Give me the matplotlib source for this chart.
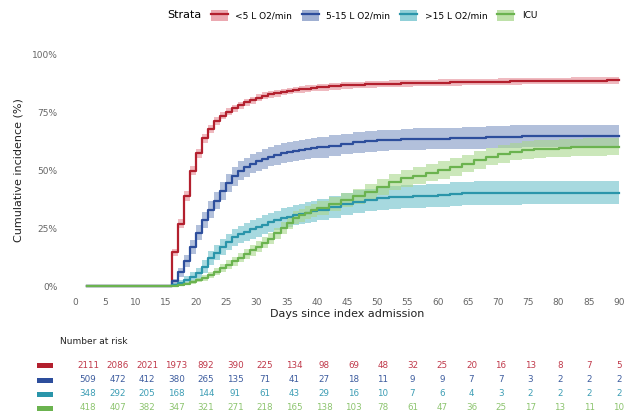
import matplotlib
matplotlib.use("Agg")
import matplotlib.pyplot as plt
import numpy as np
from matplotlib.patches import Patch, Rectangle
from matplotlib.lines import Line2D
from matplotlib.legend_handler import HandlerTuple
from matplotlib.offsetbox import HPacker

# ---------------- data ----------------
days = [2, 16, 17, 18, 19, 20, 21, 22, 23, 24, 25, 26, 27, 28, 29, 30, 31, 32, 33, 34, 35,
        36, 37, 38, 39, 40, 42, 44, 46, 48, 50, 52, 54, 56, 58, 60, 62, 64, 66, 68, 70,
        72, 74, 76, 78, 80, 82, 84, 86, 88, 90]

strata = ["<5 L O2/min", "5-15 L O2/min", ">15 L O2/min", "ICU"]

inc_low = [0, 14.7, 27, 39, 50, 57.5, 64, 68, 71.5, 73.8, 75.5, 77, 78.3, 79.5, 80.5, 81.5,
           82.3, 83, 83.5, 84, 84.4, 84.8, 85.1, 85.4, 85.7, 86, 86.4, 86.8, 87.1, 87.3,
           87.5, 87.6, 87.7, 87.8, 87.9, 88.0, 88.1, 88.2, 88.3, 88.4, 88.5, 88.6, 88.7,
           88.7, 88.8, 88.8, 88.9, 88.9, 88.9, 89.0, 89.0]
inc_mid = [0, 2, 6, 11, 17, 23, 28.5, 33, 37, 41, 44.5, 47.5, 50, 51.5, 53, 54, 55, 56,
           56.8, 57.5, 58, 58.5, 58.9, 59.3, 59.7, 60, 60.8, 61.5, 62.2, 62.6, 63, 63.2,
           63.5, 63.6, 63.7, 63.8, 63.9, 64, 64.2, 64.4, 64.6, 64.7, 64.8, 64.9, 65, 65,
           65, 65, 65, 65, 65]
inc_high = [0, 0.5, 1.5, 2.6, 4, 5.5, 8.4, 12, 14.5, 17, 19, 21, 22.3, 23.5, 24.5, 25.5,
            26.5, 27.5, 28.4, 29.3, 30, 30.7, 31.3, 31.8, 32.4, 33, 34.2, 35.4, 36.5, 37.3,
            38, 38.4, 38.7, 38.9, 39.1, 39.3, 39.8, 40.1, 40.2, 40.3, 40.3, 40.3, 40.4,
            40.4, 40.4, 40.4, 40.4, 40.4, 40.4, 40.4, 40.4]
inc_icu = [0, 0, 0.3, 1, 1.8, 2.6, 3.5, 4.7, 6.2, 7.8, 9.3, 10.7, 12.2, 13.8, 15.4, 17,
           18.8, 20.5, 22.8, 25, 27.3, 29.5, 30.7, 31.8, 32.7, 33.6, 35.4, 37.2, 38.8,
           40.8, 43, 45, 46.6, 47.8, 49, 50.2, 51.5, 53, 54.5, 56, 57.2, 58.2, 58.8, 59.2,
           59.5, 59.8, 60, 60.1, 60.2, 60.3, 60.3]

# half-widths of confidence bands (percentage points)
ci_low = [0, 1.5, 1.8, 2, 2, 2, 1.9, 1.8, 1.7, 1.6, 1.6, 1.5, 1.5, 1.5, 1.5, 1.5, 1.5,
          1.5, 1.5, 1.4, 1.4, 1.4, 1.4, 1.4, 1.4, 1.4, 1.4, 1.4, 1.4, 1.4, 1.4, 1.4, 1.4,
          1.4, 1.4, 1.4, 1.4, 1.4, 1.4, 1.4, 1.4, 1.4, 1.4, 1.4, 1.4, 1.4, 1.4, 1.4, 1.4,
          1.4, 1.4]
ci_mid = [0, 1.2, 2, 2.6, 3, 3.3, 3.5, 3.7, 3.8, 3.9, 4, 4, 4.1, 4.1, 4.1, 4.2, 4.2, 4.2,
          4.3, 4.3, 4.3, 4.3, 4.3, 4.3, 4.4, 4.4, 4.4, 4.4, 4.5, 4.5, 4.5, 4.5, 4.6, 4.6,
          4.6, 4.6, 4.7, 4.7, 4.7, 4.7, 4.8, 4.8, 4.8, 4.8, 4.8, 4.8, 4.8, 4.8, 4.8, 4.8,
          4.8]
ci_high = [0, 0.6, 1.2, 1.6, 2, 2.3, 2.7, 3, 3.2, 3.4, 3.6, 3.7, 3.8, 3.9, 4, 4.1, 4.1,
           4.2, 4.2, 4.3, 4.3, 4.4, 4.4, 4.5, 4.5, 4.6, 4.7, 4.8, 4.9, 4.9, 5, 5, 5, 5, 5,
           5, 5.1, 5.1, 5.1, 5.1, 5.1, 5.1, 5.1, 5.1, 5.1, 5.1, 5.1, 5.1, 5.1, 5.1, 5.1]
ci_icu = [0, 0, 0.4, 0.7, 0.9, 1, 1.2, 1.4, 1.5, 1.7, 1.8, 1.9, 2, 2.1, 2.2, 2.3, 2.4,
          2.5, 2.5, 2.6, 2.7, 2.8, 2.8, 2.9, 3, 3, 3.1, 3.2, 3.3, 3.4, 3.5, 3.5, 3.6, 3.6,
          3.6, 3.7, 3.7, 3.7, 3.8, 3.8, 3.8, 3.8, 3.8, 3.8, 3.8, 3.8, 3.8, 3.8, 3.8, 3.8,
          3.8]

risk_days = [0, 5, 10, 15, 20, 25, 30, 35, 40, 45, 50, 55, 60, 65, 70, 75, 80, 85, 90]
risk_low = [2111, 2086, 2021, 1973, 892, 390, 225, 134, 98, 69, 48, 32, 25, 20, 16, 13, 8, 7, 5]
risk_mid = [509, 472, 412, 380, 265, 135, 71, 41, 27, 18, 11, 9, 9, 7, 7, 3, 2, 2, 2]
risk_high = [348, 292, 205, 168, 144, 91, 61, 43, 29, 16, 10, 7, 6, 4, 3, 2, 2, 2, 2]
risk_icu = [418, 407, 382, 347, 321, 271, 218, 165, 138, 103, 78, 61, 47, 36, 25, 17, 13, 11, 10]

x_ticks = [0, 5, 10, 15, 20, 25, 30, 35, 40, 45, 50, 55, 60, 65, 70, 75, 80, 85, 90]
y_ticks = [0, 25, 50, 75, 100]
y_tick_labels = ["0%", "25%", "50%", "75%", "100%"]

# ---------------- style ----------------
line_colors = ["#B3202E", "#2D4E9C", "#2A95AA", "#6BB34F"]
band_colors = ["#E58C97", "#8096C4", "#6DC1CB", "#A9D78C"]
text_colors = ["#C0394A", "#3D5C9E", "#3C9DB4", "#8CC46E"]

series = [inc_low, inc_mid, inc_high, inc_icu]
cis = [ci_low, ci_mid, ci_high, ci_icu]
risks = [risk_low, risk_mid, risk_high, risk_icu]

W, H = 633, 418
fig = plt.figure(figsize=(W / 100, H / 100), dpi=100)

xpx = (619 - 75) / 90.0
ypx = (286 - 55) / 100.0
xl, xr = -2, 92
yb, yt = -3, 103
left = (75 + xl * xpx) / W
width = (xr - xl) * xpx / W
bottom = 1 - (286 - yb * ypx) / H
height = (yt - yb) * ypx / H
ax = fig.add_axes([left, bottom, width, height])

d = np.array(days, dtype=float)
for vals, ci, bc in zip(series, cis, band_colors):
    v = np.array(vals)
    c = np.array(ci)
    ax.fill_between(d, v - c, v + c, step="post", color=bc, alpha=0.6, linewidth=0)
for vals, lc in zip(series, line_colors):
    ax.step(d, vals, where="post", color=lc, linewidth=1.6)

ax.set_xlim(xl, xr)
ax.set_ylim(yb, yt)
ax.set_xticks(x_ticks)
ax.set_yticks(y_ticks)
ax.set_yticklabels(y_tick_labels)
for s in ax.spines.values():
    s.set_visible(False)
ax.tick_params(length=0, labelsize=6.5, labelcolor="#666666", pad=4)
ax.set_xlabel("Days since index admission", fontsize=8, color="#222222", labelpad=1)
ax.set_ylabel("Cumulative incidence (%)", fontsize=8, color="#222222", labelpad=6)

# legend
handles = []
for lc, bc in zip(line_colors, band_colors):
    handles.append((Patch(facecolor=bc, edgecolor="none", alpha=0.75),
                    Line2D([], [], color=lc, linewidth=1.6)))
leg = fig.legend(handles, strata, loc="center", bbox_to_anchor=(0.556, 0.963), ncol=4,
                 frameon=False, fontsize=6.5, title="Strata", title_fontsize=8,
                 handler_map={tuple: HandlerTuple(ndivide=1, pad=0)},
                 handlelength=1.9, handleheight=1.5, columnspacing=1.1, handletextpad=0.8)
title_box = leg._legend_title_box
handle_box = leg._legend_handle_box
leg._legend_box._children = [HPacker(children=[title_box, handle_box], sep=7,
                                     align="center", pad=0)]

# risk table
tax = fig.add_axes([0, 0, 1, 1])
tax.set_xlim(0, W)
tax.set_ylim(H, 0)
tax.axis("off")
tax.text(60, 342, "Number at risk", fontsize=6.5, color="#222222", va="center", ha="left")
row_y = [365, 380, 394, 408]
col_x0, col_x1 = 88, 619
for r, tc, lc, yy in zip(risks, text_colors, line_colors, row_y):
    tax.add_patch(Rectangle((37, yy - 2.5), 16, 5, color=lc, linewidth=0))
    for dd, n in zip(risk_days, r):
        xx = col_x0 + (col_x1 - col_x0) * dd / 90.0
        tax.text(xx, yy, str(n), fontsize=6.3, color=tc, ha="center", va="center")

fig.savefig("out.png", dpi=100)
